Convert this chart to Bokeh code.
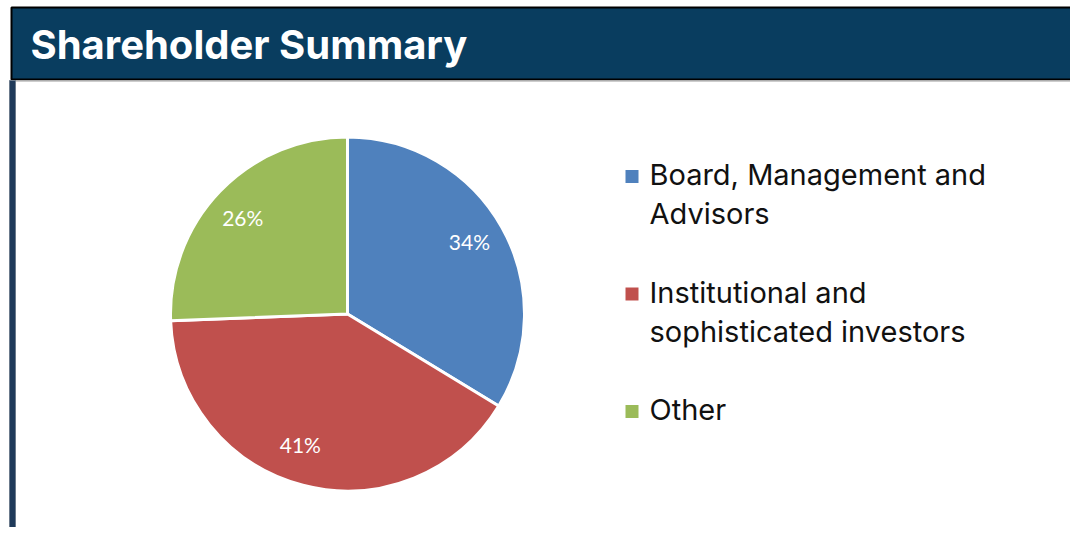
import math
from bokeh.plotting import figure
from bokeh.models import Range1d
from bokeh.core.properties import value
from bokeh.embed import file_html
from bokeh.resources import INLINE

# ---- data ----
title_text = "Shareholder Summary"
categories = ["Board, Management and Advisors", "Institutional and sophisticated investors", "Other"]
legend_lines = [["Board, Management and", "Advisors"], ["Institutional and", "sophisticated investors"], ["Other"]]
shares = [33.7, 40.7, 25.6]
pct_labels = ["34%", "41%", "26%"]
colors = ["#4F81BD", "#C0504D", "#9BBB59"]

W, H = 1070, 527
def py(page_y):
    return H - page_y

p = figure(width=W, height=H, output_backend="svg", toolbar_location=None,
           x_range=Range1d(0, W), y_range=Range1d(0, H), min_border=0)
p.axis.visible = False
p.grid.visible = False
p.outline_line_color = None
p.background_fill_color = "white"
p.border_fill_color = "white"

# header band
p.quad(left=[11], right=[1100], top=[py(7)], bottom=[py(79)],
       fill_color="#093D5F", line_color="#000000", line_width=2)
p.segment(x0=[11], y0=[py(80.5)], x1=[1100], y1=[py(80.5)], line_color="#BDBDBD", line_width=1.5)
p.text(x=[30], y=[py(44)], text=[title_text], text_color="white",
       text_font=value("Inter"), text_font_size="40px", text_font_style="bold",
       text_baseline="alphabetic")

# left vertical rule
p.quad(left=[9], right=[15], top=[py(80)], bottom=[py(540)],
       fill_color="#1F3A5A", line_color="#6B7A8C", line_width=1)

# pie
cx, cy, r = 347, py(313.5), 177
total = sum(shares)
label_nudge = [(0, 4), (-12, 5), (-4, 0)]
cum = 0.0
lx, ly = [], []
for v, c, (nx, ny) in zip(shares, colors, label_nudge):
    a0 = math.pi / 2 - 2 * math.pi * cum / total
    a1 = math.pi / 2 - 2 * math.pi * (cum + v) / total
    p.wedge(x=cx, y=cy, radius=r, radius_units="screen", start_angle=a0, end_angle=a1,
            direction="clock", fill_color=c, line_color="white", line_width=3)
    mid = (a0 + a1) / 2
    lx.append(cx + 0.79 * r * math.cos(mid) + nx)
    ly.append(cy + 0.79 * r * math.sin(mid) + ny)
    cum += v
p.text(x=lx, y=ly, text=pct_labels, text_color="white", text_font=value("Lato"),
       text_font_size="21px", text_align="center", text_baseline="middle")

# legend
sq_y = [176, 293.5, 411]
base_y = [[174, 213], [292, 331], [409]]
for c, sy, lines, bys in zip(colors, sq_y, legend_lines, base_y):
    p.rect(x=[631.5], y=[py(sy)], width=13, height=13, width_units="screen", height_units="screen",
           fill_color=c, line_color=None)
    p.text(x=[649] * len(lines), y=[py(b) for b in bys], text=lines, text_color="#111111",
           text_font=value("Inter"), text_font_size="29px", text_baseline="alphabetic")

open("out.html", "w").write(file_html(p, INLINE))
